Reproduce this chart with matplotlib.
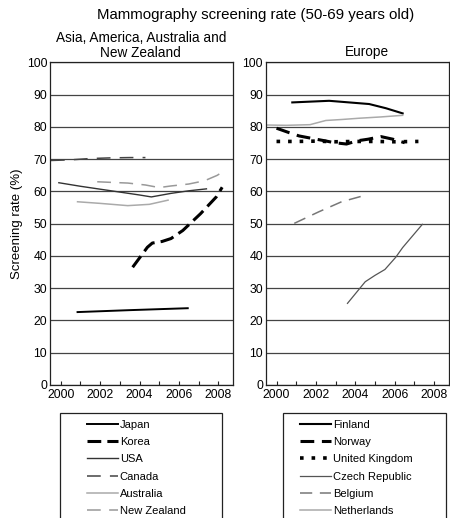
import matplotlib
matplotlib.use("Agg")
import matplotlib.pyplot as plt
from matplotlib.patches import Rectangle

plt.rcParams['font.family'] = ['Liberation Sans', 'DejaVu Sans']

# ---------------- data ----------------
title = "Mammography screening rate (50-69 years old)"
left_title = "Asia, America, Australia and\nNew Zealand"
right_title = "Europe"
ylabel = "Screening rate (%)"
xtick_years = [2000, 2001, 2002, 2003, 2004, 2005, 2006, 2007, 2008]
xtick_labels = ["2000", "", "2002", "", "2004", "", "2006", "", "2008"]
ytick_values = [0, 10, 20, 30, 40, 50, 60, 70, 80, 90, 100]

japan_years = [2000.85, 2003.5, 2006.45]
japan = [22.6, 23.2, 23.8]

korea_years = [2003.65, 2004.4, 2004.65, 2005.15, 2005.6, 2006.2, 2007.1, 2007.9, 2008.2]
korea = [36.5, 42.7, 44.0, 44.5, 45.4, 47.9, 53.1, 58.3, 61.3]

usa_years = [1999.9, 2001.0, 2002.0, 2003.0, 2004.0, 2004.6, 2005.6, 2006.5, 2007.4]
usa = [62.7, 61.6, 60.7, 59.8, 58.9, 58.3, 59.4, 60.2, 60.8]

canada_years = [1999.5, 2000.5, 2001.5, 2002.5, 2003.5, 2004.3]
canada = [69.6, 69.8, 70.2, 70.4, 70.5, 70.5]

australia_years = [2000.85, 2002.0, 2003.4, 2004.5, 2005.45]
australia = [56.8, 56.3, 55.6, 56.0, 57.3]

nz_years = [2001.85, 2002.6, 2003.4, 2004.3, 2005.0, 2005.6, 2006.5, 2007.3, 2007.95, 2008.4]
nz = [63.0, 62.8, 62.6, 62.0, 61.2, 61.7, 62.3, 63.3, 65.0, 66.8]

finland_years = [2000.8, 2002.67, 2004.7, 2005.55, 2006.4]
finland = [87.6, 88.1, 87.1, 85.8, 84.2]

norway_years = [2000.0, 2000.65, 2001.15, 2001.75, 2002.45, 2002.95, 2003.55, 2004.1,
                2004.65, 2005.3, 2005.9, 2006.5]
norway = [79.6, 78.2, 77.2, 76.5, 75.7, 75.1, 74.7, 75.7, 76.2, 77.0, 76.2, 75.1]

uk_years = [2000.0, 2001.0, 2002.0, 2003.0, 2004.0, 2005.0, 2006.0, 2007.2]
uk = [75.5, 75.5, 75.6, 75.4, 75.5, 75.5, 75.4, 75.5]

czech_years = [2003.6, 2004.5, 2005.0, 2005.5, 2006.05, 2006.4, 2007.4]
czech = [25.3, 32.0, 34.0, 35.8, 39.6, 42.6, 49.8]

belgium_years = [2000.9, 2002.15, 2003.3, 2004.55]
belgium = [50.1, 53.7, 56.8, 58.9]

netherlands_years = [1999.45, 2000.5, 2001.7, 2002.5, 2003.3, 2004.2, 2005.3, 2006.4]
netherlands = [80.6, 80.5, 80.7, 82.0, 82.3, 82.7, 83.1, 83.6]

# ---------------- figure ----------------
fig = plt.figure(figsize=(4.5, 5.18), dpi=100)
axL = fig.add_axes([0.1111, 0.2568, 0.4067, 0.6227])
axR = fig.add_axes([0.5904, 0.2568, 0.4073, 0.6227])

for ax in (axL, axR):
    ax.set_xlim(1999.45, 2008.75)
    ax.set_ylim(0, 100)
    ax.set_yticks(ytick_values)
    ax.set_xticks(xtick_years)
    ax.set_xticklabels(xtick_labels)
    ax.tick_params(axis='x', direction='in', length=3, width=0.8, labelsize=8.8, pad=3, color='#222')
    ax.tick_params(axis='y', length=0, labelsize=8.8, pad=2)
    ax.yaxis.grid(True, color='#444444', linewidth=0.9)
    ax.set_axisbelow(True)
    for s in ax.spines.values():
        s.set_color('#222222')
        s.set_linewidth(0.9)

lines_left = []
l, = axL.plot(japan_years, japan, color='black', lw=1.4, label='Japan'); lines_left.append(l)
l, = axL.plot(korea_years, korea, color='black', lw=2.2, linestyle=(0, (4.5, 2)), label='Korea'); lines_left.append(l)
l, = axL.plot(usa_years, usa, color='#333333', lw=1.0, label='USA'); lines_left.append(l)
l, = axL.plot(canada_years, canada, color='#444444', lw=1.1, linestyle=(0, (9, 6)), label='Canada'); lines_left.append(l)
l, = axL.plot(australia_years, australia, color='#aaaaaa', lw=1.1, label='Australia'); lines_left.append(l)
l, = axL.plot(nz_years, nz, color='#999999', lw=1.1, linestyle=(0, (9, 5.5)), label='New Zealand'); lines_left.append(l)

lines_right = []
l, = axR.plot(finland_years, finland, color='black', lw=1.5, label='Finland'); lines_right.append(l)
l, = axR.plot(norway_years, norway, color='black', lw=2.2, linestyle=(0, (4.5, 2.5)), label='Norway'); lines_right.append(l)
l, = axR.plot(uk_years, uk, color='black', lw=2.6, linestyle=(0, (1.0, 2.2)), label='United Kingdom'); lines_right.append(l)
l, = axR.plot(czech_years, czech, color='#555555', lw=0.9, label='Czech Republic'); lines_right.append(l)
l, = axR.plot(belgium_years, belgium, color='#777777', lw=1.1, linestyle=(0, (8, 5)), label='Belgium'); lines_right.append(l)
l, = axR.plot(netherlands_years, netherlands, color='#aaaaaa', lw=1.1, label='Netherlands'); lines_right.append(l)

axL.set_ylabel(ylabel, fontsize=9.5, labelpad=3)

fig.text(0.569, 0.971, title, ha='center', va='center', fontsize=10.8)
fig.text(0.313, 0.912, left_title, ha='center', va='center', fontsize=9.8, linespacing=1.1)
fig.text(0.816, 0.899, right_title, ha='center', va='center', fontsize=9.8)

# legends
legkw = dict(loc='upper left', frameon=False, fontsize=8.0, handlelength=2.8,
             handletextpad=0.15, labelspacing=0.66, borderpad=0, borderaxespad=0)
fig.legend(lines_left, [h.get_label() for h in lines_left], bbox_to_anchor=(0.193, 0.19), **legkw)
fig.legend(lines_right, [h.get_label() for h in lines_right], bbox_to_anchor=(0.667, 0.19), **legkw)

fig.patches.append(Rectangle((0.133, -0.01), 0.36, 0.2127, transform=fig.transFigure,
                             fill=False, edgecolor='#222222', linewidth=0.9))
fig.patches.append(Rectangle((0.629, -0.01), 0.362, 0.2127, transform=fig.transFigure,
                             fill=False, edgecolor='#222222', linewidth=0.9))

fig.savefig("out.png", dpi=100)
